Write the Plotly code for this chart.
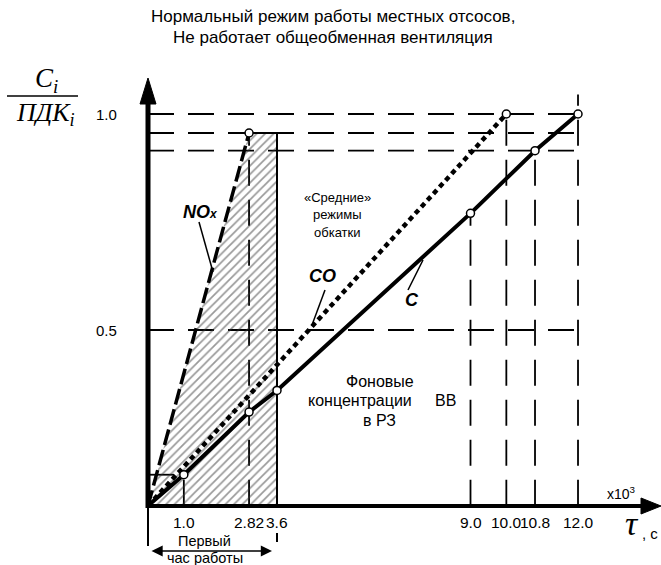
import plotly.graph_objects as go

# ---------------- data ----------------
title_lines = ["Нормальный режим работы местных отсосов,",
               "Не работает общеобменная вентиляция"]

tau_ticks = [1.0, 2.82, 3.6, 9.0, 10.0, 10.8, 12.0]
tau_tick_labels = ["1.0", "2.82", "3.6", "9.0", "10.0", "10.8", "12.0"]
y_ticks = [0.5, 1.0]
y_tick_labels = ["0.5", "1.0"]

base_level = 0.093          # level where the tau axis crosses the C/ПДК axis

c_tau = [0.0, 1.0, 2.82, 3.6, 9.0, 10.8, 12.0]
c_val = [0.093, 0.165, 0.31, 0.36, 0.77, 0.915, 1.0]

co_tau = [0.0, 10.0]
co_val = [0.093, 1.0]

nox_tau = [0.0, 2.82]
nox_val = [0.093, 0.956]

first_hour_tau = [0.0, 2.82, 3.6, 3.6, 0.0]
first_hour_val = [0.093, 0.956, 0.956, 0.093, 0.093]

ref_levels = [1.0, 0.956, 0.915, 0.5]
ref_level_end = [12.0, 12.0, 12.0, 12.15]

# vertical guides: tau value and the level they rise to
guide_tau = [1.0, 2.82, 9.0, 10.0, 10.8, 12.0]
guide_top = [0.165, 0.956, 0.77, 1.0, 0.915, 1.045]

# ---------------- layout helpers ----------------
W, H = 661, 565
X_RANGE = [-4.130, 14.316]
Y_RANGE = [-0.04398, 1.2639]


def px(xp):
    return xp / W


def py(yp):
    return 1 - yp / H


DASH = "26px,14px"

fig = go.Figure()

# hatched "first hour" region
fig.add_trace(go.Scatter(
    x=first_hour_tau, y=first_hour_val, mode="lines", fill="toself",
    fillcolor="rgba(0,0,0,0)",
    fillpattern=dict(shape="/", fgcolor="#333333", bgcolor="rgba(0,0,0,0)",
                     size=6, solidity=0.28),
    line=dict(width=0), hoverinfo="skip"))

# edges of the hatched region (top + right)
fig.add_trace(go.Scatter(
    x=first_hour_tau[1:4], y=first_hour_val[1:4], mode="lines",
    line=dict(color="black", width=2), hoverinfo="skip"))

# NOx (dashed)
fig.add_trace(go.Scatter(
    x=nox_tau, y=nox_val, mode="lines",
    line=dict(color="black", width=3.5, dash="16px,5px")))
# CO (dotted)
fig.add_trace(go.Scatter(
    x=co_tau, y=co_val, mode="lines",
    line=dict(color="black", width=4.5, dash="5px,4px")))
# C (solid)
fig.add_trace(go.Scatter(
    x=c_tau, y=c_val, mode="lines",
    line=dict(color="black", width=4)))

# markers (open circles)
mk = dict(symbol="circle", size=8, color="white",
          line=dict(color="black", width=1.5))
fig.add_trace(go.Scatter(x=c_tau[1:], y=c_val[1:], mode="markers", marker=mk))
fig.add_trace(go.Scatter(x=co_tau[1:], y=co_val[1:], mode="markers", marker=mk))
fig.add_trace(go.Scatter(x=nox_tau[1:], y=nox_val[1:], mode="markers", marker=mk))

shapes = []
# horizontal dashed guides
for lvl, xe in zip(ref_levels, ref_level_end):
    shapes.append(dict(type="line", xref="x", yref="y", x0=0, x1=xe, y0=lvl, y1=lvl,
                       line=dict(color="black", width=1.8, dash=DASH), layer="below"))
# short guide to the first C point
shapes.append(dict(type="line", xref="x", yref="y", x0=0, x1=c_tau[1],
                   y0=c_val[1], y1=c_val[1],
                   line=dict(color="black", width=1.8, dash=DASH), layer="below"))
# vertical dashed guides
for t, top in zip(guide_tau, guide_top):
    shapes.append(dict(type="line", xref="x", yref="y", x0=t, x1=t, y0=base_level, y1=top,
                       line=dict(color="black", width=1.8, dash=DASH), layer="below"))

# axes (thick) with arrowheads
shapes.append(dict(type="line", xref="paper", yref="paper",
                   x0=px(148), x1=px(148), y0=py(508), y1=py(100),
                   line=dict(color="black", width=5)))
shapes.append(dict(type="path", xref="paper", yref="paper",
                   path=f"M {px(148)},{py(78)} L {px(140)},{py(104)} L {px(156)},{py(104)} Z",
                   fillcolor="black", line=dict(color="black", width=1)))
shapes.append(dict(type="line", xref="paper", yref="paper",
                   x0=px(146), x1=px(645), y0=py(506), y1=py(506),
                   line=dict(color="black", width=4)))
shapes.append(dict(type="path", xref="paper", yref="paper",
                   path=f"M {px(661)},{py(506)} L {px(641)},{py(498)} L {px(641)},{py(514)} Z",
                   fillcolor="black", line=dict(color="black", width=1)))

# first-hour bracket below axis
shapes.append(dict(type="line", xref="paper", yref="paper",
                   x0=px(148), x1=px(148), y0=py(506), y1=py(546),
                   line=dict(color="black", width=2)))
shapes.append(dict(type="line", xref="x", yref="paper",
                   x0=3.6, x1=3.6, y0=py(533), y1=py(542),
                   line=dict(color="black", width=2)))

# y-label fraction bar
shapes.append(dict(type="line", xref="paper", yref="paper",
                   x0=px(7), x1=px(78), y0=py(96), y1=py(96),
                   line=dict(color="black", width=1.5)))

ann = []
sans = "Liberation Sans, Arial"
serif = "Liberation Serif, Times New Roman"
# title
for i, t in enumerate(title_lines):
    ann.append(dict(text=t, x=px(333), y=py(17 + 21 * i), xref="paper", yref="paper",
                    showarrow=False, xanchor="center", yanchor="middle",
                    font=dict(family=sans, size=17, color="black")))

# tau tick labels
for t, lab in zip(tau_ticks, tau_tick_labels):
    ann.append(dict(text=lab, x=t, y=py(522), xref="x", yref="paper", showarrow=False,
                    xanchor="center", yanchor="middle",
                    font=dict(family=sans, size=15.5, color="black")))
# y tick labels
for v, lab in zip(y_ticks, y_tick_labels):
    ann.append(dict(text=lab, x=px(119), y=v, xref="paper", yref="y", showarrow=False,
                    xanchor="right", yanchor="middle",
                    font=dict(family=sans, size=15, color="black")))

# y-axis label
ann.append(dict(text="<i>C<sub>i</sub></i>", x=px(46), y=py(80), xref="paper", yref="paper",
                showarrow=False, xanchor="center", yanchor="middle",
                font=dict(family=serif, size=27, color="black")))
ann.append(dict(text="<i>ПДК<sub>i</sub></i>", x=px(45), y=py(114), xref="paper", yref="paper",
                showarrow=False, xanchor="center", yanchor="middle",
                font=dict(family=serif, size=26, color="black")))
# x-axis label
ann.append(dict(text="x10<sup>3</sup>", x=px(621), y=py(493), xref="paper", yref="paper",
                showarrow=False, xanchor="center", yanchor="middle",
                font=dict(family=sans, size=14, color="black")))
ann.append(dict(text="<i>τ</i>", x=px(632), y=py(523), xref="paper", yref="paper",
                showarrow=False, xanchor="center", yanchor="middle",
                font=dict(family=serif, size=34, color="black")))
ann.append(dict(text=", с", x=px(650), y=py(533), xref="paper", yref="paper",
                showarrow=False, xanchor="center", yanchor="middle",
                font=dict(family=sans, size=15, color="black")))

# series labels with leader lines
def leader(x0, y0, x1, y1):
    shapes.append(dict(type="line", xref="paper", yref="paper",
                       x0=px(x0), x1=px(x1), y0=py(y0), y1=py(y1),
                       line=dict(color="black", width=1.5)))

ann.append(dict(text="<b><i>NO<span style='font-size:12px'>x</span></i></b>",
                x=px(200), y=py(212), xref="paper", yref="paper", showarrow=False,
                xanchor="center", yanchor="middle",
                font=dict(family=sans, size=18, color="black")))
leader(199, 222, 213, 272)
ann.append(dict(text="<b><i>CO</i></b>", x=px(322), y=py(276), xref="paper", yref="paper",
                showarrow=False, xanchor="center", yanchor="middle",
                font=dict(family=sans, size=18, color="black")))
leader(325, 290, 312, 325)
ann.append(dict(text="<b><i>C</i></b>", x=px(412), y=py(300), xref="paper", yref="paper",
                showarrow=False, xanchor="center", yanchor="middle",
                font=dict(family=sans, size=18, color="black")))
leader(408, 290, 423, 260)

# region labels
for t, xx, yy in [("«Средние»", 337, 197), ("режимы", 337, 215), ("обкатки", 337, 232)]:
    ann.append(dict(text=t, x=px(xx), y=py(yy), xref="paper", yref="paper", showarrow=False,
                    xanchor="center", yanchor="middle",
                    font=dict(family=sans, size=13, color="black")))
for t, xx, yy in [("Фоновые", 380, 381), ("концентрации", 360, 400), ("в РЗ", 379, 420),
                  ("ВВ", 445, 401)]:
    ann.append(dict(text=t, x=px(xx), y=py(yy), xref="paper", yref="paper", showarrow=False,
                    xanchor="center", yanchor="middle",
                    font=dict(family=sans, size=16, color="black")))

# bracket arrow + text
ann.append(dict(text="", x=px(272), y=py(551), ax=-122, ay=0,
                xref="paper", yref="paper", axref="pixel", ayref="pixel",
                showarrow=True, arrowside="end+start", arrowhead=2, arrowsize=1.4,
                arrowwidth=1.6, arrowcolor="black"))
for t, yy in [("Первый", 541), ("час работы", 558)]:
    ann.append(dict(text=t, x=px(205), y=py(yy), xref="paper", yref="paper", showarrow=False,
                    xanchor="center", yanchor="middle",
                    font=dict(family=sans, size=14.5, color="black")))

fig.update_layout(
    width=W, height=H, margin=dict(l=0, r=0, t=0, b=0),
    paper_bgcolor="white", plot_bgcolor="white", showlegend=False,
    xaxis=dict(range=X_RANGE, visible=False, fixedrange=True),
    yaxis=dict(range=Y_RANGE, visible=False, fixedrange=True),
    shapes=shapes, annotations=ann)

fig.write_html("out.html", config={"displayModeBar": False},
               post_script="document.body.style.margin='0';document.body.style.padding='0';")
